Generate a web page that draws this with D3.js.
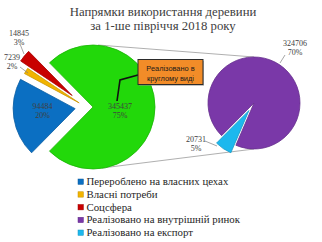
<!DOCTYPE html>
<html><head><meta charset="utf-8">
<script src="https://cdn.jsdelivr.net/npm/d3@7"></script>
<style>html,body{margin:0;padding:0;background:#fff;}svg{display:block;}</style>
</head><body><svg id="c" width="322" height="242"></svg>
<script>
// ---- data ----
const titleLines = ["Напрямки використання деревини", "за 1-ше півріччя 2018 року"];
const categories = ["Перероблено на власних цехах", "Власні потреби", "Соцсфера", "Реалізовано на внутрішній ринок", "Реалізовано на експорт"];
const values = [94484, 7239, 14845, 324706, 20731];
const percentLabels = ["20%", "2%", "3%", "70%", "5%"];
const groupLines = ["Реалізовано в", "круглому виді"];
const groupPercent = "75%";
const colors = ["#0b6fc2", "#f2b400", "#c80000", "#7a38a8", "#1cb8ee"];
const groupColor = "#22d80a";

const svg = d3.select("#c");
const serif = "'Liberation Serif','Times New Roman',serif";
const sans = "'Liberation Sans',Arial,sans-serif";

// title
const titles = svg.selectAll("text.title").data(titleLines).join("text")
  .attr("x", 163).attr("y", (d, i) => 16 + i * 13.5)
  .attr("text-anchor", "middle").attr("font-family", serif).attr("font-size", 12)
  .attr("fill", "#404040").text(d => d);
{
  const w = titles.node().getComputedTextLength();
  titles.attr("font-size", 12 * 187 / w);
}

// ---- main pie ----
const groupValue = values[3] + values[4];
const mainItems = [
  { key: "group", value: groupValue, color: groupColor, explode: 7 },
  { key: 0, value: values[0], color: colors[0], explode: 11 },
  { key: 1, value: values[1], color: colors[1], explode: 8 },
  { key: 2, value: values[2], color: colors[2], explode: 18 }
];
const total = d3.sum(mainItems, d => d.value);
const gA = 2 * Math.PI * groupValue / total;
const s0 = Math.PI / 2 - gA / 2;
const mainPie = d3.pie().sort(null).value(d => d.value).startAngle(s0).endAngle(s0 + 2 * Math.PI);
const mc = [86, 107], mr = 62;
const mainArcs = mainPie(mainItems);
const arcM = d3.arc().innerRadius(0).outerRadius(mr);
function off(a, d) { const m = (a.startAngle + a.endAngle) / 2; return [Math.sin(m) * d, -Math.cos(m) * d]; }

// ---- secondary pie ----
const secItems = [
  { key: 3, value: values[3], color: colors[3], explode: 0 },
  { key: 4, value: values[4], color: colors[4], explode: 9 }
];
const secTotal = d3.sum(secItems, d => d.value);
const cyanA = 2 * Math.PI * values[4] / secTotal;
const cyanMid = 214 * Math.PI / 180;
const ss0 = cyanMid - cyanA / 2 - (2 * Math.PI - cyanA);
const secPie = d3.pie().sort(null).value(d => d.value).startAngle(ss0).endAngle(ss0 + 2 * Math.PI);
const sc = [254, 103], sr = 46;
const secArcs = secPie(secItems);
const arcS = d3.arc().innerRadius(0).outerRadius(sr);

// connector lines
const gOff = off(mainArcs[0], mainItems[0].explode);
const gx = mc[0] + gOff[0], gy = mc[1] + gOff[1];
const conn = [
  [[gx + 5, gy - mr], [sc[0], sc[1] - sr]],
  [[gx + 9, gy + mr - 1], [sc[0], sc[1] + sr]]
];
svg.selectAll("line.conn").data(conn).join("line")
  .attr("x1", d => d[0][0]).attr("y1", d => d[0][1]).attr("x2", d => d[1][0]).attr("y2", d => d[1][1])
  .attr("stroke", "#a6a6a6").attr("stroke-width", 0.9);

const mg = svg.append("g").attr("transform", `translate(${mc})`);
mg.selectAll("path").data(mainArcs).join("path")
  .attr("transform", d => `translate(${off(d, d.data.explode)})`)
  .attr("d", arcM).attr("fill", d => d.data.color)
  .attr("stroke", d => d3.color(d.data.color).darker(0.5)).attr("stroke-width", 0.8);

const sg = svg.append("g").attr("transform", `translate(${sc})`);
sg.selectAll("path").data(secArcs).join("path")
  .attr("transform", d => `translate(${off(d, d.data.explode)})`)
  .attr("d", arcS).attr("fill", d => d.data.color)
  .attr("stroke", d => d3.color(d.data.color).darker(0.5)).attr("stroke-width", 0.8);

// ---- labels ----
const fmt = d3.format("d");
function twoLine(x, y, a, b) {
  const t = svg.append("text").attr("font-family", serif).attr("font-size", 8).attr("fill", "#404040").attr("text-anchor", "middle");
  t.append("tspan").attr("x", x).attr("y", y).text(a);
  t.append("tspan").attr("x", x).attr("y", y + 9).text(b);
}
{
  const a = mainArcs[1], o = off(a, a.data.explode + 34);
  twoLine(mc[0] + o[0] + 1, mc[1] + o[1] - 5, fmt(values[0]), percentLabels[0]);
  twoLine(gx + 27, gy + 2, fmt(groupValue), groupPercent);
}
const outLab = [
  { i: 2, x: 19, y: 36, lead: [[20, 44], [24, 54]] },
  { i: 1, x: 12, y: 60, lead: [[20, 67], [28, 73]] },
  { i: 3, x: 295, y: 46, lead: [[285, 55], [280, 63]] },
  { i: 4, x: 196, y: 142, lead: [[205, 141], [217, 146]] }
];
outLab.forEach(l => {
  twoLine(l.x, l.y, fmt(values[l.i]), percentLabels[l.i]);
  svg.append("polyline").attr("points", l.lead.map(p => p.join(",")).join(" "))
    .attr("fill", "none").attr("stroke", "#7f7f7f").attr("stroke-width", 0.7);
});

// callout for group
svg.append("polyline").attr("points", `${gx + 24},101 ${gx + 27},80 138,75`)
  .attr("fill", "none").attr("stroke", "#111").attr("stroke-width", 1.6);
svg.append("rect").attr("x", 139).attr("y", 61).attr("width", 65).attr("height", 25)
  .attr("fill", "#888").attr("opacity", 0.5);
svg.append("rect").attr("x", 138).attr("y", 59.5).attr("width", 65).attr("height", 25)
  .attr("fill", "#f28c28").attr("stroke", "#2b2b2b").attr("stroke-width", 1);
svg.selectAll("text.call").data(groupLines).join("text")
  .attr("x", 170.5).attr("y", (d, i) => 70.5 + i * 10.5).attr("text-anchor", "middle")
  .attr("font-family", sans).attr("font-size", 7.4).attr("fill", "#1a1a1a").text(d => d);

// ---- legend ----
const lg = svg.append("g");
const rows = lg.selectAll("g").data(categories).join("g")
  .attr("transform", (d, i) => `translate(78,${181.7 + i * 12.75})`);
rows.append("rect").attr("x", 0).attr("y", -2.7).attr("width", 5.4).attr("height", 5.4)
  .attr("fill", (d, i) => colors[i]).attr("stroke", (d, i) => d3.color(colors[i]).darker(0.6)).attr("stroke-width", 0.5);
const ltexts = rows.append("text").attr("x", 8.5).attr("y", 3.5).attr("font-family", serif).attr("font-size", 10)
  .attr("fill", "#262626").text(d => d);
{
  const w = ltexts.node().getComputedTextLength();
  ltexts.attr("font-size", 10 * 142 / w);
}
</script></body></html>
